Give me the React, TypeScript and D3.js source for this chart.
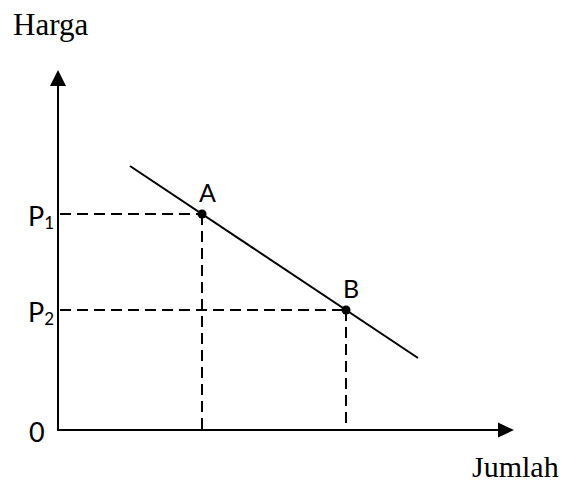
import React from 'react'
import * as d3 from 'd3'

// demand curve: quantity vs price (arbitrary units)
const curveQ = [1.5, 7.5]
const curveP = [5.5, 1.5]
const pointNames = ['A', 'B']
const pointQ = [3, 6]
const pointP = [4.5, 2.5]
const priceLabels = ['1', '2']
const qMax = 9.5
const pMax = 7.5

const W = 567
const H = 482
const sans = "Lato, 'Open Sans', sans-serif"
const serif = "'Liberation Serif', 'Times New Roman', serif"

export default function App() {
  const x = d3.scaleLinear().domain([0, qMax]).range([58, 514])
  const y = d3.scaleLinear().domain([0, pMax]).range([430, 70])

  const line = d3.line<number>().x((d, i) => x(curveQ[i])).y(d => y(d))

  const x0 = x(0)
  const y0 = y(0)
  const xEnd = x(qMax)
  const yEnd = y(pMax)

  return (
    <svg width={W} height={H} style={{ position: 'absolute', left: 0, top: 0, background: '#fff' }}>
      {/* axes */}
      <line x1={x0} y1={y0} x2={xEnd - 14} y2={y0} stroke="#000" strokeWidth={2} />
      <line x1={x0} y1={y0 + 1} x2={x0} y2={yEnd + 14} stroke="#000" strokeWidth={2} />
      <path d={`M${xEnd},${y0} L${xEnd - 16},${y0 - 7.5} L${xEnd - 16},${y0 + 7.5} Z`} fill="#000" />
      <path d={`M${x0},${yEnd} L${x0 - 8},${yEnd + 16} L${x0 + 8},${yEnd + 16} Z`} fill="#000" />

      {/* dashed guides */}
      {pointQ.map((q, i) => (
        <g key={i} stroke="#000" strokeWidth={2} strokeDasharray="11,6" fill="none">
          <line x1={x0 + 2} y1={y(pointP[i])} x2={x(q)} y2={y(pointP[i])} />
          <line x1={x(q)} y1={y(pointP[i])} x2={x(q)} y2={y0} />
        </g>
      ))}

      {/* demand line */}
      <path d={line(curveP) ?? ''} stroke="#000" strokeWidth={2} fill="none" />

      {pointQ.map((q, i) => (
        <g key={'p' + i}>
          <circle cx={x(q)} cy={y(pointP[i])} r={4.5} fill="#000" />
          <text x={x(q) - 3} y={y(pointP[i]) - 12} fontFamily={sans} fontSize={25} fill="#000">
            {pointNames[i]}
          </text>
        </g>
      ))}

      {/* price labels */}
      {pointP.map((p, i) => (
        <text key={'l' + i} x={28} y={y(p) + 12} fontFamily={sans} fontSize={27} fill="#000">
          P
          <tspan fontSize={17} dy={3}>{priceLabels[i]}</tspan>
        </text>
      ))}
      <text x={29} y={442} fontFamily={sans} fontSize={27} fill="#000">0</text>

      <text x={13} y={35} fontFamily={serif} fontSize={31} fill="#000">Harga</text>
      <text x={472} y={477} fontFamily={serif} fontSize={30} fill="#000">Jumlah</text>
    </svg>
  )
}
